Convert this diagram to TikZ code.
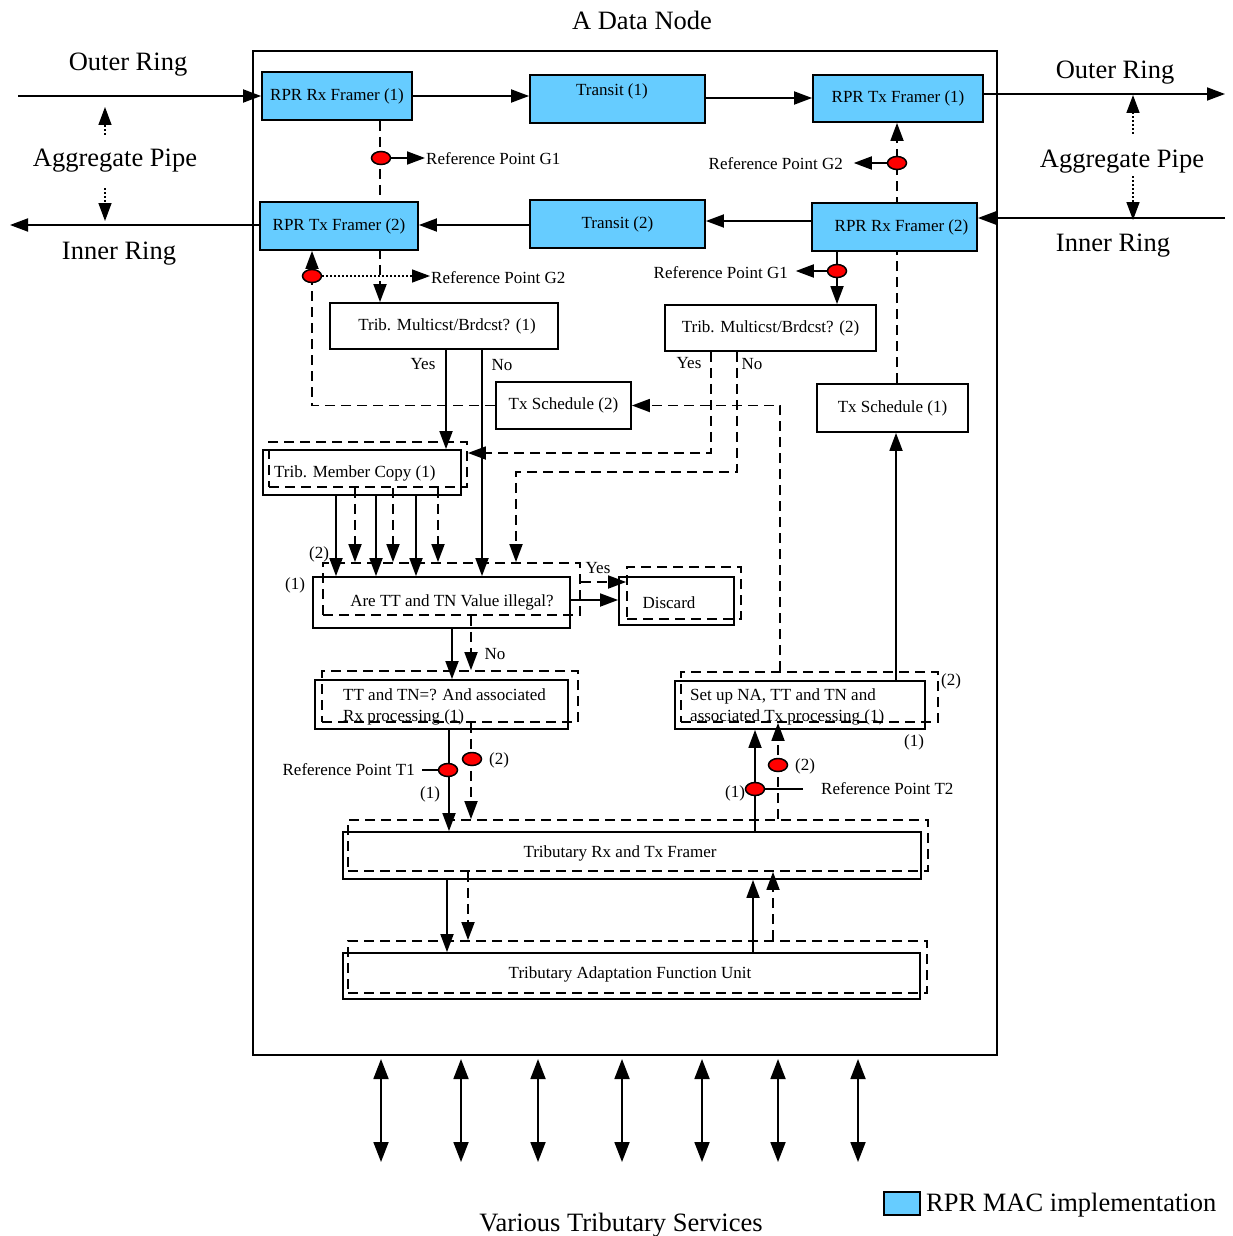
\documentclass[tikz,border=0pt]{standalone}
\usepackage{fontspec}
\setmainfont{Liberation Serif}
\usetikzlibrary{arrows.meta,shapes.geometric,backgrounds}
\definecolor{rprblue}{RGB}{102,204,255}
\tikzset{
  every node/.style={font=\fontsize{17}{21}\selectfont, inner sep=1pt},
  big/.style={font=\fontsize{26.5}{30}\selectfont},
  box/.style={draw, rectangle, line width=1.8pt, inner sep=0pt},
  bluebox/.style={box, fill=rprblue},
  dbox/.style={draw, rectangle, line width=1.8pt, inner sep=0pt, dash pattern=on 10pt off 6pt},
  conn/.style={line width=1.8pt, -{Triangle[length=18pt,width=13pt]}},
  dconn/.style={conn, dash pattern=on 10pt off 6pt},
  dline/.style={line width=1.8pt, dash pattern=on 10pt off 6pt},
  dotconn/.style={line width=1.5pt, dash pattern=on 1.5pt off 2.5pt, -{Triangle[length=18pt,width=13pt]}},
  biconn/.style={line width=1.8pt, {Triangle[length=20pt,width=15pt]}-{Triangle[length=20pt,width=15pt]}},
  refpt/.style={ellipse, draw, fill=red, line width=1.5pt, minimum width=19pt, minimum height=13pt, inner sep=0pt},
}
\begin{document}
\begin{tikzpicture}[x=1pt,y=-1pt]
\useasboundingbox (0,0) rectangle (1232,1236);

% node frame
\node[box, line width=2pt, minimum width=744pt, minimum height=1004pt] (dnode) at (625,553) {};
\node[big] (title) at (642,20) {A Data Node};

% ring side labels
\node[big] (orl) at (128,65) {Outer Ring};
\node[big] (irl) at (119,254) {Inner Ring};
\node[big] (apl) at (115,161) {Aggregate Pipe};
\node[big] (orr) at (1115,73) {Outer Ring};
\node[big] (irr) at (1113,246) {Inner Ring};
\node[big] (apr) at (1122,162) {Aggregate Pipe};

% RPR MAC blocks
\node[bluebox, minimum width=150pt, minimum height=48pt] (rx1) at (337,96) {RPR Rx Framer (1)};
\node[bluebox, minimum width=175pt, minimum height=48pt] (tr1) at (617.5,99) {};
\node (tr1t) at (612,91) {Transit (1)};
\node[bluebox, minimum width=170pt, minimum height=47pt] (tx1) at (898,98.5) {RPR Tx Framer (1)};
\node[bluebox, minimum width=158pt, minimum height=48pt] (tx2) at (339,226) {RPR Tx Framer (2)};
\node[bluebox, minimum width=175pt, minimum height=48pt] (tr2) at (617.5,224) {Transit (2)};
\node[bluebox, minimum width=165pt, minimum height=48pt] (rx2) at (894.5,227) {\hspace*{14pt}RPR Rx Framer (2)};

% tributary blocks
\node[box, minimum width=228pt, minimum height=46pt] (tm1) at (444,326) {\hspace*{6pt}Trib. Multicst/Brdcst? (1)};
\node[box, minimum width=211pt, minimum height=46pt] (tm2) at (770.5,328) {Trib. Multicst/Brdcst? (2)};
\node[box, minimum width=135pt, minimum height=47pt] (ts2) at (563.5,405.5) {Tx Schedule (2)};
\node[box, minimum width=151pt, minimum height=48pt] (ts1) at (892.5,408) {Tx Schedule (1)};

\node[box, minimum width=198pt, minimum height=45pt] (tmc) at (362,472.5) {};
\node[dbox, minimum width=198pt, minimum height=45pt] (tmcd) at (368,464.5) {};
\node[anchor=west] (tmct) at (273,473) {Trib. Member Copy (1)};

\node[box, minimum width=257pt, minimum height=51pt] (aret) at (441.5,602.5) {};
\node[dbox, minimum width=257pt, minimum height=52pt] (aretd) at (451.5,589) {};
\node (arett) at (452,602) {Are TT and TN Value illegal?};

\node[box, minimum width=115pt, minimum height=48pt] (disc) at (676.5,601) {};
\node[dbox, minimum width=114pt, minimum height=52pt] (discd) at (684,593) {};
\node (disct) at (669,603) {Discard};

\node[box, minimum width=253pt, minimum height=49pt] (ttn) at (441.5,704.5) {};
\node[dbox, minimum width=256pt, minimum height=51pt] (ttnd) at (450,696.5) {};
\node[anchor=west, align=left] (ttnt) at (342,707) {TT and TN=? And associated\\Rx processing (1)};

\node[box, minimum width=250pt, minimum height=48pt] (setup) at (800,705) {};
\node[dbox, minimum width=257pt, minimum height=50pt] (setupd) at (809.5,697) {};
\node[anchor=west, align=left] (setupt) at (689,707) {Set up NA, TT and TN and\\associated Tx processing (1)};

\node[box, minimum width=578pt, minimum height=47pt] (trf) at (632,855.5) {};
\node[dbox, minimum width=580pt, minimum height=51pt] (trfd) at (638,845.5) {};
\node (trft) at (620,853) {Tributary Rx and Tx Framer};

\node[box, minimum width=577pt, minimum height=46pt] (taf) at (631.5,976) {};
\node[dbox, minimum width=579pt, minimum height=52pt] (tafd) at (637.5,967) {};
\node (taft) at (630,974) {Tributary Adaptation Function Unit};

% lines passing behind the framers
\begin{pgfonlayer}{background}
  \draw[dconn] (rx1.south -| 380,0) -- (tm1.north -| 380,0);
  \draw[dconn] (ts1.north -| 897,0) -- (tx1.south -| 897,0);
\end{pgfonlayer}

% ring connections
\coordinate (orlin) at (18,96);
\coordinate (irlout) at (10,225);
\coordinate (orrout) at (1225,94);
\coordinate (irrin) at (1225,218);
\draw[conn] (orlin) -- (rx1.west);
\draw[conn] (rx1.east) -- (rx1.east -| tr1.west);
\draw[conn] (tr1.east |- 0,98) -- (tx1.west |- 0,98);
\draw[conn] (tx1.east |- orrout) -- (orrout);
\draw[conn] (irrin) -- (irrin -| rx2.east);
\draw[conn] (rx2.west |- 0,221) -- (tr2.east |- 0,221);
\draw[conn] (tr2.west |- 0,225) -- (tx2.east |- 0,225);
\draw[conn] (tx2.west |- irlout) -- (irlout);

% aggregate pipe
\coordinate (apl1) at (105,135); \coordinate (apl2) at (105,107);
\coordinate (apl3) at (105,188); \coordinate (apl4) at (105,221);
\coordinate (apr1) at (1133,134); \coordinate (apr2) at (1133,95);
\coordinate (apr3) at (1133,176); \coordinate (apr4) at (1133,220);
\draw[dotconn] (apl1) -- (apl2);
\draw[dotconn] (apl3) -- (apl4);
\draw[dotconn] (apr1) -- (apr2);
\draw[dotconn] (apr3) -- (apr4);

% reference points G1 / G2
\node[anchor=west] (g1lt) at (425,159) {Reference Point G1};
\node[refpt] (g1l) at (381,158) {};
\draw[conn] (g1l.east) -- (g1l.east -| g1lt.west);

\node[anchor=west] (g2lt) at (430,278) {Reference Point G2};
\draw[dline] (ts2.west) -| (312,276);
\node[refpt] (g2l) at (312,276) {};
\draw[conn] (g2l.north) -- (tx2.south -| g2l.north);
\draw[dotconn] (g2l.east) -- (g2l.east -| g2lt.west);

\node[anchor=east] (g2rt) at (844,164) {Reference Point G2};
\node[refpt] (g2r) at (897,163) {};
\draw[conn] (g2r.west) -- ++(-33,0);

\draw[conn] (rx2.south -| 837,0) -- (tm2.north -| 837,0);
\node[anchor=east] (g1rt) at (789,273) {Reference Point G1};
\node[refpt] (g1r) at (837,271) {};
\draw[conn] (g1r.west) -- ++(-31,0);

% multicast decision (1)
\draw[conn] (tm1.south -| 446,0) -- (tmc.north -| 446,0);
\draw[conn] (tm1.south -| 482,0) -- (aret.north -| 482,0);
\node (y1) at (423,364) {Yes};
\node (n1) at (502,365) {No};

% multicast decision (2)
\draw[dconn] (tm2.south -| 711,0) |- (tmcd.east |- 0,453);
\draw[dconn] (tm2.south -| 737,0) |- (516,472) -- (aretd.north -| 516,0);
\node (y2) at (689,363) {Yes};
\node (n2) at (752,364) {No};

% schedules
\draw[dconn] (setupd.north -| 780,0) |- (ts2.east);
\draw[conn] (setup.north -| 896,0) -- (ts1.south -| 896,0);

% member copies
\foreach \x in {336,376,416}
  \draw[conn] (tmc.south -| \x,0) -- (aret.north -| \x,0);
\foreach \x in {355,393,438}
  \draw[dconn] (tmcd.south -| \x,0) -- (aretd.north -| \x,0);
\node (l2a) at (319,554) {(2)};
\node (l1a) at (295,585) {(1)};

% validity check
\draw[conn] (aret.east |- 0,600) -- (disc.west |- 0,600);
\draw[dconn] (aretd.east |- 0,582) -- (discd.west |- 0,582);
\node (y3) at (598,568) {Yes};
\draw[conn] (aret.south -| 452,0) -- (ttn.north -| 452,0);
\draw[dconn] (aretd.south -| 471,0) -- (ttnd.north -| 471,0);
\node (n3) at (495,654) {No};

% reference point T1
\draw[conn] (ttn.south -| 449,0) -- (trf.north -| 449,0);
\draw[dconn] (ttnd.south -| 471,0) -- (trfd.north -| 471,0);
\node[anchor=east] (t1lt) at (416,770) {Reference Point T1};
\node[refpt] (t1) at (448,770) {};
\node[refpt] (t1b) at (472,759) {};
\draw[line width=1.8pt] (t1lt.east) ++(6,0) -- (t1.west);
\node (l1b) at (430,794) {(1)};
\node (l2b) at (499,760) {(2)};

% reference point T2
\draw[conn] (trf.north -| 755,0) -- (setup.south -| 755,0);
\draw[dconn] (trfd.north -| 778,0) -- (setupd.south -| 778,0);
\node[refpt] (t2b) at (778,765) {};
\node[refpt] (t2) at (755,789) {};
\coordinate (t2e) at (803,789);
\draw[line width=1.8pt] (t2.east) -- (t2e);
\node[anchor=west] (t2lt) at (820,789) {Reference Point T2};
\node (l2c) at (805,766) {(2)};
\node (l1c) at (735,793) {(1)};
\node (l2d) at (951,681) {(2)};
\node (l1d) at (914,742) {(1)};

% framer <-> adaptation unit
\draw[conn] (trf.south -| 447,0) -- (taf.north -| 447,0);
\draw[dconn] (trfd.south -| 468,0) -- (tafd.north -| 468,0);
\draw[conn] (taf.north -| 753,0) -- (trf.south -| 753,0);
\draw[dconn] (tafd.north -| 773,0) -- (trfd.south -| 773,0);

% tributary ports
\foreach \x [count=\i] in {381,461,538,622,702,778,858} {
  \coordinate (port\i) at (\x,1162);
  \draw[biconn, shorten <=3pt] (dnode.south -| \x,0) -- (port\i);
}
\node[big] (vts) at (621,1225) {Various Tributary Services};

% legend
\node[draw, line width=1.5pt, fill=rprblue, minimum width=36pt, minimum height=23pt, inner sep=0pt] (legbox) at (902,1203.5) {};
\node[big, anchor=west] (legt) at (925,1205) {RPR MAC implementation};
\end{tikzpicture}
\end{document}
